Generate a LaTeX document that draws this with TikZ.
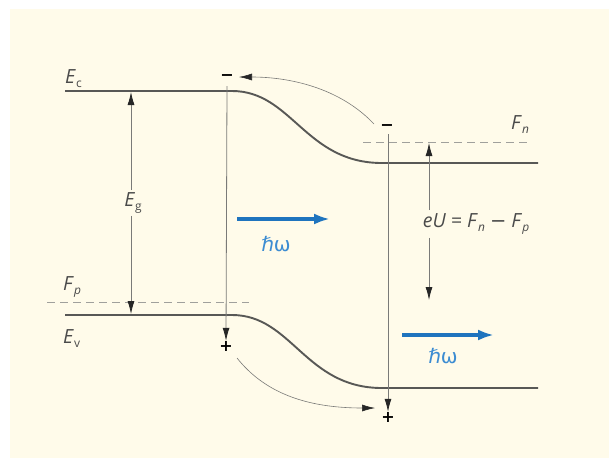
\documentclass[tikz,border=0pt]{standalone}
\usepackage{fontspec}
\setmainfont{Open Sans}
\newfontfamily\symfont{DejaVu Sans}
\usetikzlibrary{arrows.meta}
\definecolor{bg}{HTML}{FFFBEA}
\definecolor{band}{HTML}{585856}
\definecolor{thin}{HTML}{7A7A78}
\definecolor{fermic}{HTML}{A0A09C}
\definecolor{txt}{HTML}{4A4A4A}
\definecolor{photonc}{HTML}{1F74BE}
\definecolor{photontxt}{HTML}{3C8CD2}
\newcommand\sbs[1]{\raisebox{-0.45ex}{\fontsize{12}{12}\selectfont #1}}
\begin{document}
\begin{tikzpicture}[x=1pt,y=-1pt,
  bandline/.style={draw=band,line width=1.9pt},
  thinline/.style={draw=thin,line width=0.8pt},
  tip/.style={-{Latex[length=13pt,width=7pt,color=black!85]}},
  fermi/.style={draw=fermic,line width=1pt,dash pattern=on 8pt off 5pt},
  lbl/.style={text=txt,font=\fontsize{19.5}{21}\selectfont,inner sep=0pt},
  sign/.style={text=black,font=\symfont\bfseries\fontsize{16}{16}\selectfont,inner sep=0pt},
  photon/.style={draw=photonc,line width=3.5pt,-{Latex[length=16pt,width=11pt]}},
  plbl/.style={text=photontxt,font=\fontsize{20}{22}\selectfont,inner sep=0pt}]
\useasboundingbox (0,0) rectangle (609,458);
\fill[bg] (10,9) rectangle (609,458);

% band edges
\coordinate (ecL) at (65,91);
\coordinate (ecA) at (232,91);
\coordinate (ecB) at (382,163);
\coordinate (ecR) at (538,163);
\coordinate (evL) at (65,315);
\coordinate (evA) at (232,315);
\coordinate (evB) at (382,388);
\coordinate (evR) at (538,388);
\draw[bandline] (ecL) -- (ecA) .. controls (292,91) and (305,163) .. (ecB) -- (ecR);
\draw[bandline] (evL) -- (evA) .. controls (292,315) and (305,388) .. (evB) -- (evR);

% quasi Fermi levels
\coordinate (fpL) at (47,302);
\coordinate (fpR) at (249,302);
\coordinate (fnL) at (363,142);
\coordinate (fnR) at (531,142);
\draw[fermi] (fpL) -- (fpR);
\draw[fermi] (fnL) -- (fnR);

% labels
\node[lbl,anchor=base west] (Ec) at (65,83) {\textit{E}\sbs{c}};
\node[lbl,anchor=base west] (Fp) at (63,290) {\textit{F}\sbs{\textit{p}}};
\node[lbl,anchor=base west] (Ev) at (63,343) {\textit{E}\sbs{v}};
\node[lbl,anchor=base west] (Fn) at (511,129) {\textit{F}\sbs{\textit{n}}};

% band gap arrow
\node[lbl,inner sep=2pt] (Eg) at (133,203) {\textit{E}\sbs{g}};
\coordinate (egT) at (131,92);
\coordinate (egB) at (131,314);
\draw[thinline,tip] (Eg.north -| egT) -- (egT);
\draw[thinline,tip] (Eg.south -| egB) -- (egB);

% eU arrow
\node[lbl,inner sep=3pt] (eU) at (476,224) {\textit{eU} = \textit{F}\sbs{\textit{n}} {\symfont −} \textit{F}\sbs{\textit{p}}};
\coordinate (euT) at (429,143);
\coordinate (euB) at (429,300);
\draw[thinline,tip] (eU.north -| euT) -- (euT);
\draw[thinline,tip] (eU.south -| euB) -- (euB);

% carriers
\node[sign] (mL) at (227,78) {−};
\node[sign] (pL) at (226,346) {+};
\node[sign] (mR) at (387,128) {−};
\node[sign] (pR) at (388,417) {+};
\coordinate (vLtop) at (227,86);
\coordinate (vRtop) at (388,134);
\draw[thinline,tip] (vLtop) -- (pL.north);
\draw[thinline,tip] (vRtop) -- (pR.north);

% carrier transfer arrows
\coordinate (tS) at (374,124);
\coordinate (tE) at (239,77);
\draw[thinline,line width=0.6pt,tip] (tS) .. controls (340,88) and (290,77) .. (tE);
\coordinate (bS) at (237,358);
\coordinate (bE) at (375,408);
\draw[thinline,line width=0.6pt,tip] (bS) .. controls (264,392) and (305,408) .. (bE);

% photons
\coordinate (ph1a) at (237,219);
\coordinate (ph1b) at (330,219);
\draw[photon] (ph1a) -- (ph1b);
\node[plbl] (w1) at (276,244) {{\symfont\itshape ℏ}{\symfont ω}};
\coordinate (ph2a) at (402,335);
\coordinate (ph2b) at (494,335);
\draw[photon] (ph2a) -- (ph2b);
\node[plbl] (w2) at (443,356) {{\symfont\itshape ℏ}{\symfont ω}};
\end{tikzpicture}
\end{document}
